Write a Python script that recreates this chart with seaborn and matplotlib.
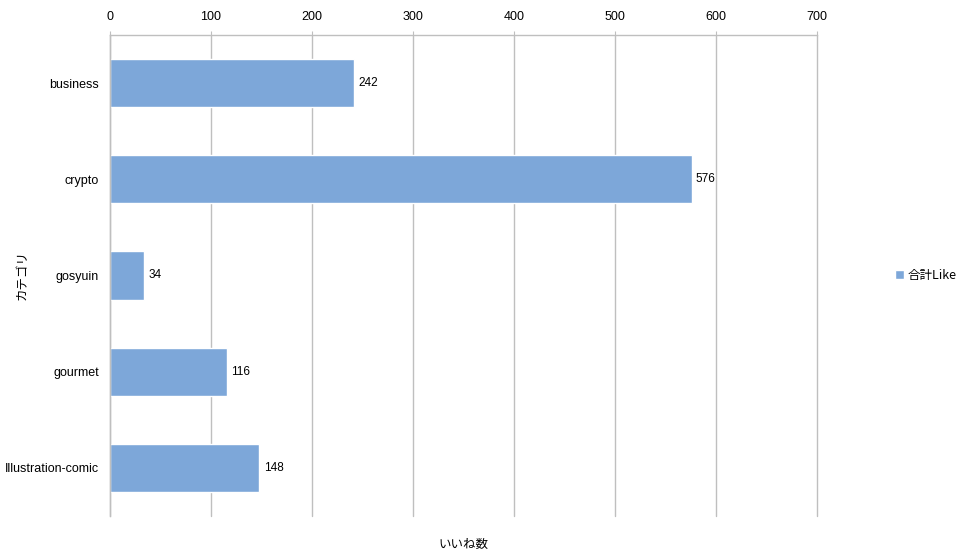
import matplotlib
matplotlib.use('Agg')
import matplotlib.pyplot as plt
import seaborn as sns
import pandas as pd
import numpy as np

categories = ["business", "crypto", "gosyuin", "gourmet", "Illustration-comic"]
likes = [242, 576, 34, 116, 148]
x_ticks = [0, 100, 200, 300, 400, 500, 600, 700]

BAR_COLOR = '#7DA7D9'
GRID_COLOR = '#BFBFBF'

sns.set_style('white')
plt.rcParams['font.family'] = ['Liberation Sans', 'Noto Sans CJK JP', 'DejaVu Sans']
plt.rcParams['text.color'] = 'black'
plt.rcParams['axes.labelcolor'] = 'black'
plt.rcParams['xtick.labelcolor'] = 'black'
plt.rcParams['ytick.labelcolor'] = 'black'

df = pd.DataFrame({'category': categories, 'likes': likes})

fig = plt.figure(figsize = (9.64, 5.6), dpi = 100)
ax = fig.add_axes([110 / 964, 44 / 560, 707 / 964, 481 / 560])

sns.barplot(data = df, x = 'likes', y = 'category', orient = 'h', color = BAR_COLOR,
            width = 0.5, saturation = 1, ax = ax, label = '合計Like')

ax.set_xlim(0, 700)
ax.set_ylim(len(categories) - 0.5, -0.5)
ax.set_xticks(x_ticks)
ax.xaxis.tick_top()
ax.tick_params(axis = 'x', length = 3, color = GRID_COLOR, labelsize = 9, pad = 6)
ax.tick_params(axis = 'y', which = 'major', length = 0, labelsize = 9, pad = 8)
ax.set_yticks(np.arange(-0.5, len(categories)), minor = True)
ax.tick_params(axis = 'y', which = 'minor', length = 5, color = GRID_COLOR)

ax.grid(axis = 'x', color = GRID_COLOR, linewidth = 1)
for gl in ax.get_xgridlines():
    gl.set_clip_on(False)
ax.set_axisbelow(True)
for side in ['right', 'bottom']:
    ax.spines[side].set_visible(False)
for side in ['left', 'top']:
    ax.spines[side].set_color(GRID_COLOR)
    ax.spines[side].set_linewidth(1)

for container in ax.containers:
    ax.bar_label(container, fmt = '%d', padding = 3, fontsize = 8.5, color = 'black')

ax.set_ylabel('カテゴリ', fontsize = 9, family = ['Noto Sans CJK JP', 'DejaVu Sans'])
ax.yaxis.set_label_coords(-0.115, 0.5)
ax.set_xlabel('いいね数', fontsize = 9, family = ['Noto Sans CJK JP', 'DejaVu Sans'])
ax.xaxis.set_label_position('bottom')
ax.xaxis.set_label_coords(0.5, -0.045)

leg = ax.legend(loc = 'center left', bbox_to_anchor = (1.095, 0.5), frameon = False,
                handlelength = 0.7, handleheight = 0.7, handletextpad = 0.3,
                prop = {'family': ['Noto Sans CJK JP', 'DejaVu Sans'], 'size': 9})

fig.savefig('out.png', dpi = 100)
plt.close(fig)
